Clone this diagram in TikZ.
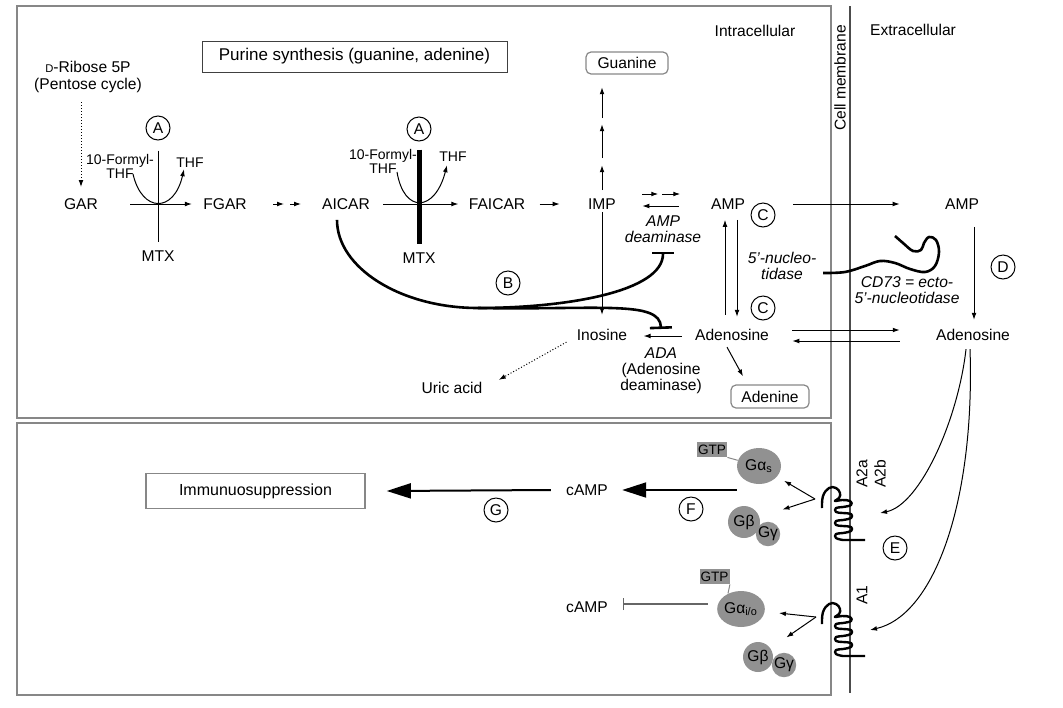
\documentclass[tikz,border=0pt]{standalone}
\usepackage{fontspec}
\setmainfont{Liberation Sans}
\usepackage{xcolor}
\usepackage{tikz}
\usetikzlibrary{positioning,arrows.meta,shapes.geometric,calc}
\definecolor{framegray}{RGB}{135,135,135}
\definecolor{gfill}{RGB}{145,145,145}
\tikzset{receptor/.pic={
    \draw[line width=1.2pt, line join=round] plot[smooth, tension=0.7] coordinates {(-9,21) (-8,9) (-2,1) (5,1) (9,6) (8,11) (4,14) (11,13) (19,14) (20,18) (12,20) (5,21) (5,25) (12,26) (20,27) (20,31) (12,33) (5,34) (5,38) (12,39) (20,40) (20,44) (12,46) (5,47) (5,51) (12,53)} -- (34,53);
}}

\begin{document}
\begin{tikzpicture}[x=0.5pt, y=-0.5pt, every node/.style={font=\fontsize{7.8}{8}\selectfont, inner sep=1pt}]
    \tikzstyle{tag}=[circle, draw, line width=0.5pt, minimum size=12pt, inner sep=0pt]
    \tikzstyle{box}=[draw=black!75, line width=0.5pt]
    \tikzstyle{rbox}=[draw=framegray, line width=0.6pt, rounded corners=2.5pt]
    \tikzstyle{itl}=[font=\fontsize{7.8}{8}\selectfont\itshape, align=center]
    \tikzstyle{fml}=[font=\fontsize{7}{6.2}\selectfont, align=center]
    \tikzstyle{rxn}=[-{Latex[length=3.5pt,width=2.4pt]}, line width=0.5pt]
    \tikzstyle{dotarrow}=[rxn, densely dotted]
    \tikzstyle{inhib}=[-{Bar[width=11pt]}, line width=1.3pt]
    \tikzstyle{bigarrow}=[-{Triangle[length=12pt,width=7.5pt]}, line width=1pt]
    \tikzstyle{gball}=[circle, fill=gfill, inner sep=0pt]
    \tikzstyle{gell}=[ellipse, fill=gfill, minimum width=22pt, minimum height=18pt, inner sep=0pt]
    \tikzstyle{gtp}=[fill=gfill, minimum width=15pt, minimum height=7.5pt, inner sep=0pt, font=\fontsize{6.8}{7}\selectfont]
    \useasboundingbox (0,0) rectangle (1063,707);

    % compartments
    \draw[framegray, line width=0.8pt] (17,6) rectangle (831,418);
    \draw[framegray, line width=0.8pt] (17,423) rectangle (831,695);
    \draw[black!70, line width=0.6pt] (850,6) -- (850,693);
    \node (intra) at (755,31) {Intracellular};
    \node (extra) at (913,30) {Extracellular};
    \node[rotate=90] (membrane) at (840,78) {Cell membrane};

    % purine synthesis
    \node[box, minimum width=152.5pt, minimum height=15.5pt, font=\fontsize{8.5}{9}\selectfont] (purine) at (354.5,56.5) {Purine synthesis (guanine, adenine)};
    \node[rbox, minimum width=41pt, minimum height=11pt] (guanine) at (627,63) {Guanine};
    \node[align=center, font=\fontsize{7.8}{8.5}\selectfont] (ribose) at (88,77) {{\fontsize{5.6}{6}\selectfont D}-Ribose 5P\\(Pentose cycle)};
    \node (gar) at (81,204) {GAR};
    \node (fgar) at (225,204) {FGAR};
    \node (aicar) at (346,204) {AICAR};
    \node (faicar) at (497,204) {FAICAR};
    \node (imp) at (602,204) {IMP};
    \node (amp) at (728,204) {AMP};
    \node (ampx) at (962,204) {AMP};
    \node (mtxA) at (158,256) {MTX};
    \node (mtxB) at (419,258) {MTX};
    \node[tag] (tagA1) at (158,128) {A};
    \node[tag] (tagA2) at (419,129) {A};
    \node[fml, anchor=south] (formylA) at (120,181) {10-Formyl-\\THF};
    \node[fml] (thfA) at (190,163) {THF};
    \node[fml, anchor=south] (formylB) at (383,176) {10-Formyl-\\THF};
    \node[fml] (thfB) at (453,157) {THF};
    \node[tag] (tagB) at (508,283) {B};
    \node[itl] (ampdeam) at (663,229) {AMP\\deaminase};
    \node (inosine) at (602,335) {Inosine};
    \node (adenosine) at (732,335) {Adenosine};
    \node (adenosinex) at (973,335) {Adenosine};
    \node[align=center, anchor=north] (ada) at (661,345) {\textit{ADA}\\(Adenosine\\deaminase)};
    \node[tag] (tagC1) at (763,215) {C};
    \node[tag] (tagC2) at (763,308) {C};
    \node[itl] (nucleo) at (782,266) {5'-nucleo-\\tidase};
    \node[itl] (cd73) at (907,290) {CD73 = ecto-\\5'-nucleotidase};
    \node[tag] (tagD) at (1003,267) {D};
    \node[rbox, minimum width=39pt, minimum height=11.5pt] (adenine) at (770,396.5) {Adenine};
    \node (uric) at (452,388) {Uric acid};

    \draw[dotarrow] ($(ribose.south -| gar.north)+(0,7)$) -- ($(gar.north)+(0,-9)$);
    % step A, first folate transfer
    \draw[rxn] ($(gar.east)+(30,0)$) -- ($(fgar.west)+(-9,0)$);
    \draw[line width=0.5pt] ($(tagA1.south)+(0,10)$) -- ($(mtxA.north)+(0,-6)$);
    \draw[rxn] ($(formylA.south)+(13,-7)$) .. controls +(9,39) and +(-10,44) .. ($(thfA.south)+(-6,-1)$);
    \draw[rxn] ($(fgar.east)+(24,0)$) -- ++(11,0);
    \draw[rxn] ($(fgar.east)+(41,0)$) -- ++(11,0);
    % step A, second folate transfer
    \draw[rxn] ($(aicar.east)+(11,0)$) -- ($(faicar.west)+(-8,0)$);
    \draw[line width=2.5pt] ($(tagA2.south)+(0,8)$) -- ($(mtxB.north)+(0,-6)$);
    \draw[rxn] ($(formylB.south)+(14,-4)$) .. controls +(7,42) and +(-12,47) .. ($(thfB.south)+(-6,1)$);
    \draw[rxn] ($(faicar.east)+(12,0)$) -- ($(imp.west)+(-26,0)$);
    % IMP to guanine
    \draw[rxn] ($(imp.north)+(0,-6)$) -- ++(0,-25);
    \draw[rxn] ($(imp.north)+(0,-38)$) -- ++(0,-34);
    \draw[rxn] ($(imp.north)+(0,-78)$) -- ++(0,-31);
    \draw[rxn] (imp.south) -- ($(inosine.north)+(0,-12)$);
    % IMP <-> AMP
    \draw[rxn] ($(imp.east)+(24,-10)$) -- ++(16,0);
    \draw[rxn] ($(imp.east)+(44,-10)$) -- ++(18,0);
    \draw[rxn] ($(amp.west)+(-30,2)$) -- ($(imp.east)+(24,2)$);
    % AMP <-> adenosine
    \draw[rxn] ($(amp.south |- adenosine.north)+(-3,-12)$) -- ($(amp.south)+(-3,8)$);
    \draw[rxn] ($(amp.south)+(9,8)$) -- ($(amp.south |- adenosine.north)+(9,-10)$);
    \draw[rxn] ($(amp.east)+(46,0)$) -- ($(ampx.west)+(-43,0)$);
    \draw[rxn] ($(ampx.south)+(12,15)$) -- ($(ampx.south |- adenosinex.north)+(12,-7)$);
    \draw[rxn] ($(adenosine.east)+(21,-5)$) -- ($(adenosinex.west)+(-34,-5)$);
    \draw[rxn] ($(adenosinex.west)+(-34,6)$) -- ($(adenosine.east)+(21,6)$);
    \draw[rxn] ($(adenosine.west)+(-11,1)$) -- ($(inosine.east)+(14,1)$);
    \draw[rxn] ($(adenosine.south)+(-5,4)$) -- ($(adenine.north)+(-27,-8)$);
    \draw[dotarrow] ($(inosine.south west)+(-8,-1)$) -- ($(uric.north east)+(14,0)$);
    % step B, AICAR blocks both deaminases
    \coordinate (bsplit) at (478,308);
    \draw[inhib] ($(aicar.south)+(-9,8)$) .. controls (337,268) and (401,308) .. (bsplit) .. controls (565,308) and (663,292) .. ($(ampdeam.south)+(0,7)$);
    \draw[inhib] (bsplit) .. controls (600,310) and (660,300) .. ($(ada.north)+(0,-16)$);
    % CD73
    \draw[line width=1.3pt, line join=round] plot[smooth, tension=0.6] coordinates {(823,273) (845,272) (865,266) (880,261) (895,263) (910,269) (925,272) (935,266) (939,252) (936,240) (929,237) (924,243) (921,250) (913,251) (903,243) (895,236)};

    % receptors
    \pic at (831,487) {receptor};
    \pic at (831,603) {receptor};
    \node[rotate=90] (a2a) at (862,474) {A2a};
    \node[rotate=90] (a2b) at (880,474) {A2b};
    \node[rotate=90] (aone) at (862,595) {A1};
    \coordinate (a2out) at (815,499);
    \coordinate (a1out) at (816,617);
    \coordinate (a2in) at (880,513);
    \coordinate (a1in) at (870,630);
    \node[tag] (tagE) at (895,548) {E};
    \draw[rxn] ($(adenosinex.south)+(-7,6)$) .. controls (958,420) and (920,505) .. (a2in);
    \draw[rxn] ($(adenosinex.south)+(-3,6)$) .. controls (975,500) and (935,615) .. (a1in);

    % G proteins
    \node[gtp] (gtpA) at (712,449.5) {GTP};
    \node[gell] (galphas) at (759,466) {Gα\textsubscript{s}};
    \node[gball, minimum size=16pt] (gbetaA) at (744,522) {Gβ};
    \node[gball, minimum size=11.5pt] (ggammaA) at (768,534) {Gγ};
    \node[gtp] (gtpB) at (714.5,576.5) {GTP};
    \node[gell] (galphai) at (741,609) {Gα\textsubscript{i/o}};
    \node[gball, minimum size=15pt] (gbetaB) at (758,657) {Gβ};
    \node[gball, minimum size=11.5pt] (ggammaB) at (784,665) {Gγ};
    \draw[framegray, line width=0.5pt] (gtpA.south east) -- (galphas.165);
    \draw[framegray, line width=0.5pt] (gtpB.south east) -- (galphai.130);
    \draw[rxn, shorten >=4pt] (a2out) -- (galphas);
    \draw[rxn, shorten >=12pt] (a2out) -- (gbetaA);
    \draw[rxn, shorten >=7pt] (a1out) -- (galphai);
    \draw[rxn, shorten >=9.5pt] (a1out) -- (gbetaB);

    % cAMP and outcome
    \node[box, draw=framegray, line width=0.8pt, minimum width=109.5pt, minimum height=17.5pt, font=\fontsize{8}{9}\selectfont] (immuno) at (255.5,491) {Immunuosuppression};
    \node (campA) at (587,490) {cAMP};
    \node (campB) at (587,607) {cAMP};
    \node[tag] (tagF) at (691,509) {F};
    \node[tag] (tagG) at (496,510) {G};
    \draw[bigarrow] (galphas.west |- campA) -- ($(campA.east)+(12,0)$);
    \draw[bigarrow] ($(campA.west)+(-13,0)$) -- ($(immuno.east)+(21,0)$);
    \draw[-{Bar[width=6pt]}, black!60, line width=0.6pt] ($(galphai.west)+(-9,-5)$) -- ($(campB.east)+(13,-3)$);
  \end{tikzpicture}
\end{document}
